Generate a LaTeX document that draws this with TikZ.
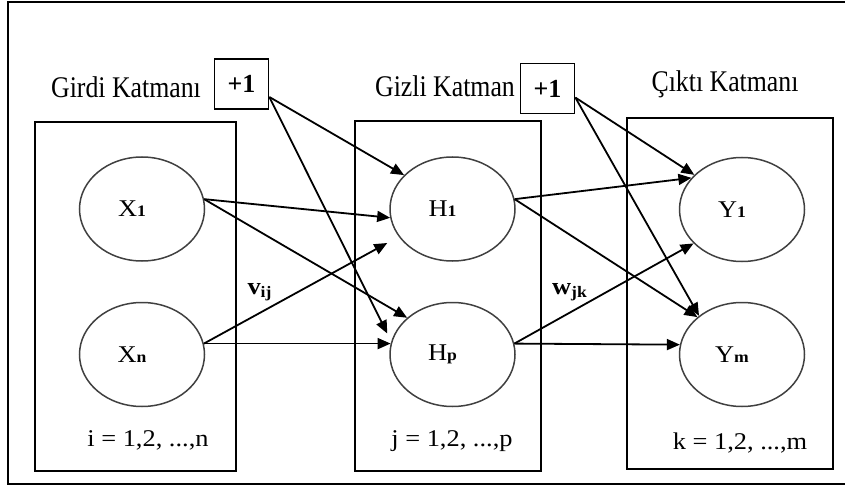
\documentclass[tikz,border=0pt]{standalone}
\usepackage{fontspec}
\setmainfont{Liberation Serif}
\newfontfamily\titlefont[FakeStretch=0.86]{Liberation Serif}
\newfontfamily\widefont[FakeStretch=1.1]{Liberation Serif}
\usetikzlibrary{shapes.geometric, arrows.meta, calc}
\newcommand{\unitsub}[1]{{\fontsize{8}{9}\selectfont\bfseries #1}}
\tikzset{
  neuron/.style = {
    ellipse, draw=black!75, line width=0.75pt,
    minimum width=62.5pt, minimum height=52pt, inner sep=0pt,
    font=\widefont\fontsize{12}{14}\selectfont,
  },
  layerbox/.style = {
    rectangle, draw, line width=0.85pt, inner sep=0pt,
  },
  biasbox/.style = {
    rectangle, draw, line width=0.85pt,
    minimum width=27pt, minimum height=25pt, inner sep=0pt,
    font=\bfseries\fontsize{13}{15}\selectfont,
  },
  layertitle/.style = {anchor=base, inner sep=0pt, font=\titlefont\fontsize{15}{18}\selectfont},
  rangelbl/.style = {anchor=base, inner sep=0pt, font=\widefont\fontsize{12}{14}\selectfont},
  weightlbl/.style = {inner sep=0pt, font=\widefont\bfseries\fontsize{12}{14}\selectfont},
  arrow/.style = {line width=0.9pt, -{Triangle[length=6.5pt, width=5.5pt]}},
}

\begin{document}
\begin{tikzpicture}[x=0.5pt, y=-0.5pt]
    \useasboundingbox (0,0) rectangle (845,486);
    \draw[line width=1pt] (8,2) rectangle (852,484);

    % --- Layers ---
    \node[layerbox, minimum width=100.5pt, minimum height=174.5pt] (inlayer)  at (135.5,296.5) {};
    \node[layerbox, minimum width=93pt,    minimum height=175pt]   (hidlayer) at (448,296) {};
    \node[layerbox, minimum width=103pt,   minimum height=175.5pt] (outlayer) at (730,293.5) {};

    \node[layertitle] (intitle)  at (126,98) {Girdi Katmanı};
    \node[layertitle] (hidtitle) at (445,97) {Gizli Katman};
    \node[layertitle] (outtitle) at (725,92) {Çıktı Katmanı};

    \node[biasbox] (biasa) at (241.5,84)   {+1};
    \node[biasbox] (biasb) at (547.5,88.5) {+1};

    % --- Nodes ---
    \node[neuron] (x1) at (142,209)   {X\unitsub{1}\hspace*{10pt}};
    \node[neuron] (xn) at (142,354.5) {X\unitsub{n}\hspace*{10pt}};
    \node[neuron] (h1) at (452.5,209)   {H\unitsub{1}\hspace*{10pt}};
    \node[neuron] (hp) at (452.5,354.5) {H\unitsub{p}\hspace*{10pt}};
    \node[neuron] (y1) at (742,209.5) {Y\unitsub{1}\hspace*{10pt}};
    \node[neuron] (ym) at (742,354.5) {Y\unitsub{m}\hspace*{10pt}};

    \node[rangelbl] (inrange)  at (148,446) {i = 1,2, ...,n};
    \node[rangelbl] (hidrange) at (452,446) {j = 1,2, ...,p};
    \node[rangelbl] (outrange) at (740,449) {k = 1,2, ...,m};

    \node[weightlbl] (vlbl) at (260,292) {v\textsubscript{ij}};
    \node[weightlbl] (wlbl) at (570,292) {w\textsubscript{jk}};

    % --- Arrows ---
    \draw[arrow] (x1.9) -- (h1.188);
    \draw[arrow] (x1.9) -- (hp.141);
    \draw[arrow] (xn.10) -- ($(h1.west)+(-2,34)$);
    \draw[arrow] (xn.10) -- (hp.170);
    \draw[arrow] (biasa.-25) -- (h1.145);
    \draw[arrow] (biasa.-25) -- ($(hp.west)+(-2,-21)$);
    \draw[arrow] (h1.9) -- (y1.148);
    \draw[arrow] (h1.9) -- (ym.140);
    \draw[arrow] (hp.10) -- (y1.215);
    \draw[arrow] (hp.10) -- (ym.171);
    % bias of the hidden layer
    \draw[arrow] (biasb.-18) -- (y1.144);
    \draw[arrow] (biasb.-18) -- (ym.138);
\end{tikzpicture}
\end{document}
